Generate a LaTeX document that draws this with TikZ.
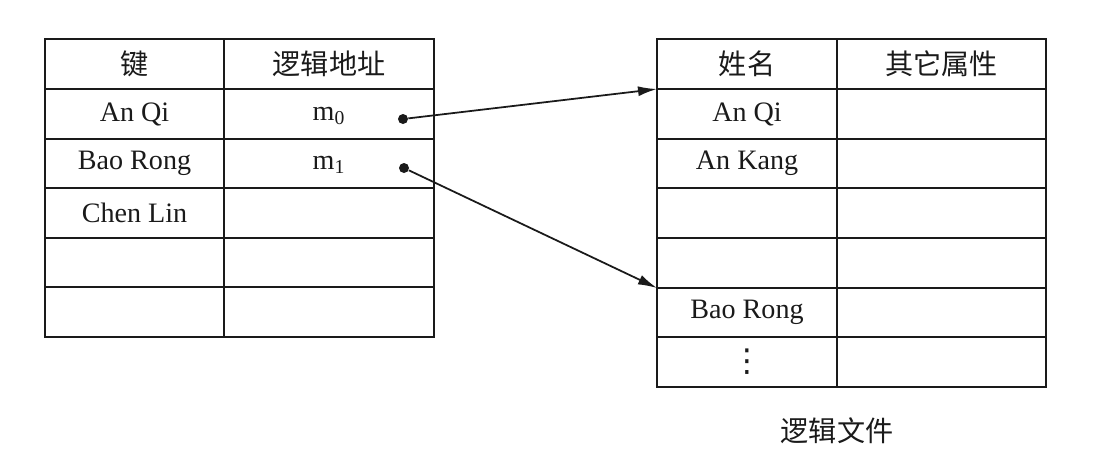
\documentclass[tikz,border=0pt]{standalone}
\usepackage{fontspec}
\setmainfont{Liberation Serif}
\newfontfamily\cjk{Noto Sans CJK SC}
\newfontfamily\sym{DejaVu Sans}
\usetikzlibrary{positioning,arrows.meta}
\definecolor{ink}{HTML}{1A1A1A}
\tikzset{
  frame/.style={draw=ink,line width=1.6pt},
  rule/.style={draw=ink,line width=1.1pt},
  cell/.style={align=center,inner sep=1pt,text=ink},
  ptr/.style={circle,fill=ink,inner sep=0pt,minimum size=0.2cm},
  link/.style={-{Latex[length=3.8mm,width=2mm]},draw=ink,line width=1pt}}

\begin{document}
\begin{tikzpicture}[x=0.02cm,y=-0.02cm,font=\fontsize{16}{19}\selectfont]
  \useasboundingbox (0,0) rectangle (1098,457);
  % index table
  \foreach \y in {89,139,188,238,287} \draw[rule] (45,\y) -- (434,\y);
  \draw[rule] (224,39) -- (224,337);
  \draw[frame] (45,39) rectangle (434,337);
  \node[cell] (key) at (134.5,64) {\cjk 键};
  \node[cell] (addr) at (329,64) {\cjk 逻辑地址};
  \node[cell] (k1) at (134.5,114) {An Qi};
  \node[cell] (k2) at (134.5,163.5) {Bao Rong};
  \node[cell] (k3) at (134.5,213) {Chen Lin};
  \node[cell] (m0) at (329,116) {m\textsubscript{0}};
  \node[cell] (m1) at (329,165) {m\textsubscript{1}};
  \node[ptr] (p0) at (403,119) {};
  \node[ptr] (p1) at (404,168) {};
  % logical file
  \foreach \y in {89,139,188,238,288,337} \draw[rule] (657,\y) -- (1046,\y);
  \draw[rule] (837,39) -- (837,387);
  \draw[frame] (657,39) rectangle (1046,387);
  \node[cell] (name) at (747,64) {\cjk 姓名};
  \node[cell] (attr) at (941.5,64) {\cjk 其它属性};
  \node[cell] (r1) at (747,114) {An Qi};
  \node[cell] (r2) at (747,163.5) {An Kang};
  \node[cell] (r5) at (747,312.5) {Bao Rong};
  \node[cell] (more) at (747,362) {\sym\fontsize{18}{18}\selectfont ⋮};
  \node[cell] (cap) at (837,431) {\cjk 逻辑文件};
  \coordinate (ta) at (657,89);
  \coordinate (tb) at (657,288);
  \draw[link] (p0) -- (ta);
  \draw[link] (p1) -- (tb);
\end{tikzpicture}
\end{document}
